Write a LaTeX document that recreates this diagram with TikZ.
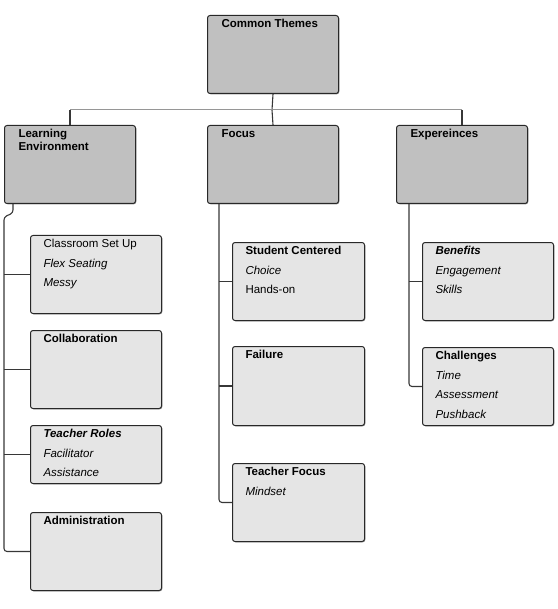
\documentclass[tikz,border=0pt]{standalone}
\usepackage{fontspec}
\setmainfont{Liberation Sans}
\usetikzlibrary{shadows}
\definecolor{headgray}{RGB}{192,192,192}
\definecolor{subgray}{RGB}{229,229,229}
\definecolor{edgegray}{RGB}{40,40,40}
\definecolor{linegray}{RGB}{55,55,55}
\definecolor{busgray}{RGB}{150,150,150}
\newcommand{\boxbody}[3]{\parbox[t][#1][t]{#2}{#3}}
\tikzset{
  themebox/.style={draw=edgegray, fill=headgray, rounded corners=2.5pt, line width=1pt,
    inner xsep=14pt, inner ysep=4pt, anchor=north west,
    drop shadow={shadow xshift=0.8pt, shadow yshift=-0.8pt, fill=black, opacity=0.45}},
  itembox/.style={themebox, fill=subgray, inner xsep=13pt},
  conn/.style={draw=linegray, line width=1.1pt},
  busline/.style={draw=busgray, line width=1pt}
}
\begin{document}
\begin{tikzpicture}[x=1pt,y=-1pt]
\useasboundingbox (0,0) rectangle (557,609);
\fontsize{11.5}{19.5}\selectfont

\node[themebox] (ct) at (207,15) {\boxbody{70pt}{103pt}{\textbf{Common Themes}}};
\node[themebox] (le) at (4,125) {\boxbody{70pt}{103pt}{\fontsize{11.5}{13}\selectfont\textbf{Learning\\Environment}}};
\node[themebox] (foc) at (207,125) {\boxbody{70pt}{103pt}{\textbf{Focus}}};
\node[themebox] (exp) at (396,125) {\boxbody{70pt}{103pt}{\textbf{Expereinces}}};

\node[itembox] (cls) at (30,235) {\boxbody{70pt}{105pt}{Classroom Set Up\\\textit{Flex Seating}\\\textit{Messy}}};
\node[itembox] (col) at (30,330) {\boxbody{70pt}{105pt}{\textbf{Collaboration}}};
\node[itembox] (tr) at (30,425) {\boxbody{50pt}{105pt}{\textbf{\textit{Teacher Roles}}\\\textit{Facilitator}\\\textit{Assistance}}};
\node[itembox] (adm) at (30,512) {\boxbody{70pt}{105pt}{\textbf{Administration}}};

\node[itembox] (sc) at (232,242) {\boxbody{70pt}{106pt}{\textbf{Student Centered}\\\textit{Choice}\\Hands-on}};
\node[itembox] (fail) at (232,346) {\boxbody{71pt}{106pt}{\textbf{Failure}}};
\node[itembox] (tf) at (232,463) {\boxbody{70pt}{106pt}{\textbf{Teacher Focus}\\\textit{Mindset}}};

\node[itembox] (ben) at (422,242) {\boxbody{70pt}{105pt}{\textbf{\textit{Benefits}}\\\textit{Engagement}\\\textit{Skills}}};
\node[itembox] (chal) at (422,347) {\boxbody{70pt}{105pt}{\textbf{Challenges}\\\textit{Time}\\\textit{Assessment}\\\textit{Pushback}}};

\coordinate (bus) at (272,110);
\draw[conn] (ct.south) -- (bus);
\draw[busline] (le.north |- bus) -- (exp.north |- bus);
\draw[conn] (le.north |- bus) -- (le.north);
\draw[conn] (bus) -- (foc.north);
\draw[conn] (exp.north |- bus) -- (exp.north);

\draw[conn, rounded corners=3pt] ([xshift=9pt]le.south west) -- ++(0,9) -- ++(-9,4) |- (adm.west);
\foreach \b in {cls,col,tr} \draw[conn] (\b.west) -- (\b.west -| le.west);

\coordinate (ftrunk) at ([xshift=12pt]foc.south west);
\draw[conn, rounded corners=3pt] (ftrunk) |- (tf.west);
\foreach \b in {sc,fail} \draw[conn] (\b.west) -- (\b.west -| ftrunk);

\coordinate (etrunk) at ([xshift=13pt]exp.south west);
\draw[conn, rounded corners=3pt] (etrunk) |- (chal.west);
\draw[conn] (ben.west) -- (ben.west -| etrunk);
\end{tikzpicture}
\end{document}
